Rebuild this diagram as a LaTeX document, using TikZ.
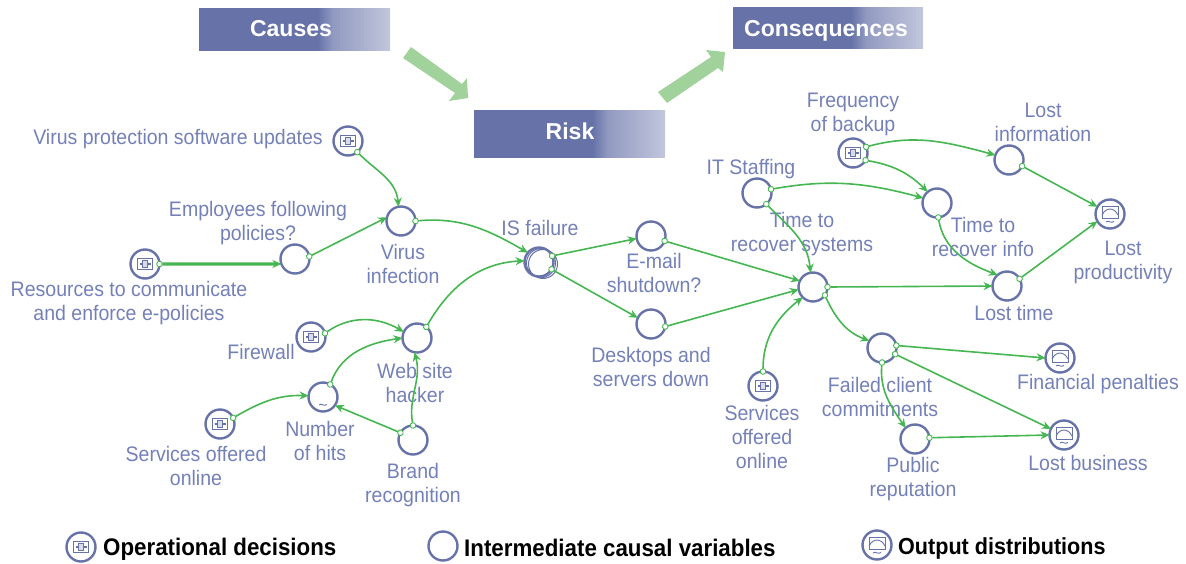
\documentclass[tikz,border=0pt]{standalone}
\usepackage{fontspec}
\setmainfont[FakeStretch=0.93]{Liberation Sans}
\newfontfamily\headfont{Liberation Sans}
\usetikzlibrary{arrows.meta}
\definecolor{navy}{HTML}{6672A8}
\definecolor{lab}{HTML}{7480B8}
\definecolor{wire}{HTML}{45B651}
\definecolor{bigarrow}{HTML}{A1D29C}
\pgfdeclarehorizontalshading{banner}{100bp}{color(0bp)=(navy); color(56bp)=(navy); color(60bp)=(navy!72!white); color(75bp)=(navy!40!white); color(100bp)=(navy!40!white)}
\tikzset{
  x=1pt,y=-1pt,
  var/.style={circle,draw=navy,line width=2.4pt,minimum size=29pt,inner sep=0pt,outer sep=0pt,fill=none},
  deciconbody/.style={path picture={
    \begin{scope}[shift={(path picture bounding box.center)}]
      \draw[navy,line width=1pt] (-7.5,-5.5) rectangle (7.5,5.5);
      \draw[navy,line width=1pt,fill=navy!25] (-2.5,-3.5) rectangle (2.5,3.5);
      \draw[navy,line width=1.4pt] (-5.5,0) -- (-2.5,0) (2.5,0) -- (5.5,0);
    \end{scope}}},
  decision/.style={var,deciconbody},
  outbody/.style={path picture={
    \begin{scope}[shift={(path picture bounding box.center)}]
      \draw[navy,line width=.9pt] (-8,-7.5) rectangle (8,4);
      \draw[navy,line width=.9pt] (-8,1) .. controls (-4,-7) and (4,-7) .. (8,1);
      \draw[navy,line width=.9pt] (-4,8) .. controls (-2,5.5) and (1,10) .. (4,7.5);
    \end{scope}}},
  outcome/.style={var,outbody},
  chance/.style={var,path picture={
    \begin{scope}[shift={(path picture bounding box.center)}]
      \draw[navy,line width=.9pt] (-4,8) .. controls (-2,5.5) and (1,10) .. (4,7.5);
    \end{scope}}},
  lbl/.style={text=lab,font=\fontsize{21}{24}\selectfont,align=center,inner sep=0pt,yshift=0.6pt},
  head/.style={text=white,font=\headfont\fontsize{23}{24}\selectfont\bfseries,inner sep=0pt,anchor=base},
  banner/.style={shading=banner,draw=none},
  legendtext/.style={text=black,font=\fontsize{24}{24}\selectfont\bfseries,inner sep=0pt,anchor=west},
  wirelink/.style={draw=wire,line width=1.6pt,
    {Circle[open,fill=white,length=6.5pt,width=6.5pt,line width=.9pt,sep=-3.25pt]}-{Stealth[length=9pt,width=8pt]}},
  fat/.style={line width=3.4pt},
}
\begin{document}
\begin{tikzpicture}
\useasboundingbox (0,0) rectangle (1186,563);
% banners
\path[banner] (199,8) rectangle (390,50);
\path[banner] (474,110) rectangle (665,157);
\path[banner] (733,7) rectangle (923,48);
\node[head] (causes) at (291,36) {Causes};
\node[head] (risk) at (570,139) {Risk};
\node[head] (conseq) at (826,36) {Consequences};
% big arrows
\fill[bigarrow] (403,58) -- (411,47) -- (462,84) -- (467,78) -- (468,98) -- (449,101) -- (455,93) -- cycle;
\fill[bigarrow] (658,92) -- (667,103) -- (718,68) -- (723,72) -- (725,52) -- (706,50) -- (711,57) -- cycle;
% nodes
\node[decision] (vps) at (348,141) {};
\node[var] (emp) at (295,259) {};
\node[decision] (res) at (145,264) {};
\node[var] (virus) at (401,221) {};
\draw[navy,line width=1pt] (543,264) circle (14.5pt) (541,263) circle (14.5pt);
\node[var] (is) at (539,262) {};
\node[var] (email) at (651,236) {};
\node[var] (desk) at (651,324) {};
\node[decision] (fw) at (311,337) {};
\node[var] (web) at (417,338) {};
\node[chance] (hits) at (323,397) {};
\node[decision] (svc) at (220,424) {};
\node[var] (brand) at (413,440) {};
\node[var] (hub) at (813,287) {};
\node[var] (staff) at (757,193) {};
\node[decision] (freq) at (853,153) {};
\node[var] (linfo) at (1009,160) {};
\node[var] (rinfo) at (937,203) {};
\node[outcome] (lprod) at (1110,214) {};
\node[var] (ltime) at (1007,286) {};
\node[decision] (svcb) at (763,386) {};
\node[var] (failed) at (882,348) {};
\node[outcome] (fin) at (1060,358) {};
\node[var] (pub) at (915,439) {};
\node[outcome] (lbus) at (1064,435) {};
% labels
\node[lbl] (t1) at (178,140) {Virus protection software updates};
\node[lbl] (t2) at (258,224) {Employees following\\policies?};
\node[lbl] (t3) at (129,304) {Resources to communicate\\and enforce e-policies};
\node[lbl] (t4) at (403,265) {Virus\\infection};
\node[lbl] (t5) at (540,229) {IS failure};
\node[lbl] (t6) at (654,274) {E-mail\\shutdown?};
\node[lbl] (t7) at (651,368) {Desktops and\\servers down};
\node[lbl] (t8) at (261,353) {Firewall};
\node[lbl] (t9) at (415,384) {Web site\\hacker};
\node[lbl] (t10) at (320,442) {Number\\of hits};
\node[lbl] (t11) at (196,467) {Services offered\\online};
\node[lbl] (t12) at (413,486) {Brand\\recognition};
\node[lbl] (t13) at (751,170) {IT Staffing};
\node[lbl] (t14) at (853,115) {Frequency\\of backup};
\node[lbl] (t15) at (1043,123) {Lost\\information};
\node[lbl] (t16) at (802,235) {Time to\\recover systems};
\node[lbl] (t17) at (983,238) {Time to\\recover info};
\node[lbl] (t18) at (1123,263) {Lost\\productivity};
\node[lbl] (t19) at (1014,314) {Lost time};
\node[lbl] (t20) at (762,438) {Services\\offered\\online};
\node[lbl] (t21) at (880,398) {Failed client\\commitments};
\node[lbl] (t22) at (1098,385) {Financial penalties};
\node[lbl] (t23) at (913,480) {Public\\reputation};
\node[lbl] (t24) at (1088,464) {Lost business};
% connectors
\draw[wirelink] (vps.-50) to[out=-45,in=95] (virus.100);
\draw[wirelink] (emp.10) -- (virus.165);
\draw[wirelink,fat] (res.0) -- (emp.200);
\draw[wirelink] (virus.0) to[out=5,in=150] (is.140);
\draw[wirelink] (is.25) -- (email.190);
\draw[wirelink] (is.-30) -- (desk.155);
\draw[wirelink] (email.-20) -- (hub.155);
\draw[wirelink] (desk.-10) -- (hub.190);
\draw[wirelink] (web.50) to[out=60,in=183] (is.175);
\draw[wirelink] (fw.15) to[out=35,in=150] (web.155);
\draw[wirelink] (hits.60) to[out=70,in=188] (web.180);
\draw[wirelink] (svc.25) to[out=30,in=178] (hits.175);
\draw[wirelink] (brand.150) -- (hits.-35);
\draw[wirelink] (brand.90) to[out=100,in=-75] (web.-100);
\draw[wirelink] (staff.-50) to[out=-45,in=95] (hub.100);
\draw[wirelink] (staff.15) to[out=10,in=165] (rinfo.160);
\draw[wirelink] (freq.25) to[out=15,in=165] (linfo.160);
\draw[wirelink] (freq.-30) to[out=-10,in=135] (rinfo.130);
\draw[wirelink] (linfo.-25) -- (lprod.150);
\draw[wirelink] (rinfo.-85) to[out=-80,in=160] (ltime.130);
\draw[wirelink] (hub.0) -- (ltime.180);
\draw[wirelink] (ltime.30) -- (lprod.-150);
\draw[wirelink] (svcb.90) to[out=90,in=218] (hub.-135);
\draw[wirelink] (hub.-35) to[out=-65,in=160] (failed.150);
\draw[wirelink] (failed.10) -- (fin.180);
\draw[wirelink] (failed.-25) -- (lbus.155);
\draw[wirelink] (failed.-90) to[out=-95,in=125] (pub.130);
\draw[wirelink] (pub.5) -- (lbus.180);
% legend
\node[decision] (k1) at (81,547) {};
\node[legendtext] (k1t) at (103,549) {Operational decisions};
\node[var] (k2) at (443,546) {};
\node[legendtext] (k2t) at (464,548) {Intermediate causal variables};
\node[outcome] (k3) at (877,545) {};
\node[legendtext,font=\fontsize{23.2}{24}\selectfont\bfseries] (k3t) at (898,548) {Output distributions};
\end{tikzpicture}
\end{document}
